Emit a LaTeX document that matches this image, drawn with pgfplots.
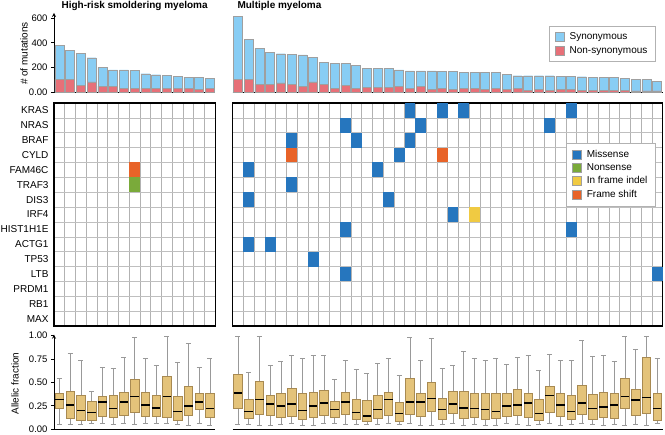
\documentclass[border=0pt]{standalone}
\usepackage{pgfplots}
\pgfplotsset{compat=1.18}
\usepackage{pgfplotstable}
\usepgfplotslibrary{statistics}
\usepackage{fontspec}
\setmainfont{Liberation Sans}

\definecolor{syncol}{RGB}{136,205,244}
\definecolor{nonsyncol}{RGB}{231,112,120}
\definecolor{missense}{RGB}{38,118,190}
\definecolor{nonsense}{RGB}{122,170,58}
\definecolor{indel}{RGB}{240,202,66}
\definecolor{frameshift}{RGB}{232,99,40}
\definecolor{boxfill}{RGB}{228,195,122}
\definecolor{boxedge}{RGB}{168,138,82}

% one grid cell = 10.75pt x 14.867pt
\pgfdeclareplotmark{cell}{%
  \pgfpathrectangle{\pgfpoint{-5.375pt}{-7.433pt}}{\pgfpoint{10.75pt}{14.867pt}}%
  \pgfusepathqfill}

\newcommand{\ticksize}{\fontsize{9.5}{11}\selectfont}
\newcommand{\labsize}{\fontsize{10}{12}\selectfont}

% draw one prepared box from row #2 of table #1
\newcommand{\boxrow}[2]{%
  \pgfplotstablegetelem{#2}{lw}\of#1\let\bLW\pgfplotsretval
  \pgfplotstablegetelem{#2}{lq}\of#1\let\bLQ\pgfplotsretval
  \pgfplotstablegetelem{#2}{med}\of#1\let\bMD\pgfplotsretval
  \pgfplotstablegetelem{#2}{uq}\of#1\let\bUQ\pgfplotsretval
  \pgfplotstablegetelem{#2}{uw}\of#1\let\bUW\pgfplotsretval
  \edef\doplot{\noexpand\addplot[boxplot prepared={draw position=\the\numexpr#2+1\relax,
    lower whisker=\bLW, lower quartile=\bLQ, median=\bMD,
    upper quartile=\bUQ, upper whisker=\bUW}] coordinates {};}%
  \doplot}

\pgfplotsset{
  base/.style={scale only axis, clip=false,
    /pgf/number format/assume math mode=true,
    tick label style={font=\ticksize},
    label style={font=\labsize}},
  paneltitle/.style={every axis title/.style={at={(axis description cs:0,1)},
    anchor=base west, xshift=#1, yshift=4.3pt, font=\bfseries\labsize}},
  bars/.style={base, height=79.5pt, ymin=0, ymax=640,
    axis x line=bottom, xtick=\empty,
    axis line style={-, line width=0.8pt}},
  grid/.style={base, height=223pt, ymin=0.5, ymax=15.5, y dir=reverse,
    xticklabel=\empty, xmajorgrids=true,
    ytick={1,...,15}, minor ytick={1.5,2.5,...,14.5}, yminorgrids=true,
    major tick length=0pt, minor tick length=0pt,
    grid style={gray!60, line width=0.5pt},
    minor grid style={gray!50, line width=0.5pt},
    axis line style={line width=1.2pt}},
  boxes/.style={base, height=94.6pt, ymin=0, ymax=1.01,
    axis x line=bottom, xtick=\empty,
    axis line style={-, line width=0.8pt},
    boxplot/draw direction=y,
    boxplot/box extend=0.77, boxplot/whisker extend=0.47,
    boxplot/every box/.style={fill=boxfill, draw=boxedge, line width=0.5pt},
    boxplot/every whisker/.style={draw=gray!80, line width=0.7pt},
    boxplot/every median/.style={draw=black, line width=1.6pt}},
  sqlegend/.style={legend cell align=left,
    legend image code/.code={\draw[##1] (0pt,-4.5pt) rectangle (9pt,4.5pt);},
    legend style={draw=gray!60, font=\labsize, row sep=0.8pt,
      inner xsep=6pt, inner ysep=5pt,
      /tikz/every odd column/.style={column sep=3pt}}},
}

% mutation counts per sample
\pgfplotstableread{
x total nonsyn
1 379 108
2 339 108
3 317 59
4 280 86
5 202 51
6 183 51
7 183 35
8 178 35
9 151 35
10 143 35
11 140 35
12 132 35
13 124 35
14 124 27
15 116 35
}\smmbars

\pgfplotstableread{
x total nonsyn
1 614 108
2 428 108
3 355 67
4 323 67
5 312 78
6 307 67
7 302 51
8 285 86
9 245 67
10 234 35
11 234 59
12 218 35
13 197 43
14 197 43
15 197 43
16 183 48
17 175 35
18 175 48
19 175 27
20 170 35
21 170 27
22 162 35
23 162 35
24 162 27
25 162 35
26 146 27
27 135 35
28 135 19
29 135 27
30 135 19
31 129 27
32 129 27
33 127 19
34 124 19
35 124 19
36 121 19
37 113 19
38 108 13
39 108 13
40 92 13
}\mmbars

% allelic fraction summaries
\pgfplotstableread{
lw lq med uq uw
0.05 0.22 0.32 0.38 0.54
0.05 0.12 0.26 0.41 0.81
0.05 0.10 0.20 0.36 0.74
0.06 0.10 0.18 0.30 0.41
0.06 0.14 0.29 0.35 0.66
0.05 0.13 0.22 0.36 0.65
0.06 0.15 0.29 0.40 0.77
0.05 0.18 0.35 0.53 0.98
0.06 0.14 0.26 0.40 0.76
0.06 0.14 0.23 0.36 0.68
0.06 0.13 0.35 0.57 0.99
0.05 0.10 0.19 0.35 0.71
0.04 0.15 0.25 0.46 0.92
0.06 0.21 0.29 0.39 0.66
0.04 0.13 0.22 0.39 0.76
}\smmbox

\pgfplotstableread{
lw lq med uq uw
0.05 0.23 0.39 0.59 0.99
0.05 0.12 0.19 0.32 0.61
0.04 0.16 0.32 0.51 0.99
0.04 0.15 0.27 0.36 0.68
0.05 0.13 0.25 0.38 0.73
0.06 0.14 0.27 0.44 0.79
0.04 0.11 0.20 0.38 0.76
0.04 0.13 0.25 0.40 0.79
0.06 0.15 0.28 0.42 0.79
0.06 0.13 0.21 0.30 0.53
0.05 0.16 0.29 0.40 0.74
0.05 0.11 0.18 0.32 0.64
0.05 0.09 0.14 0.31 0.60
0.05 0.12 0.21 0.36 0.70
0.06 0.15 0.32 0.40 0.76
0.05 0.09 0.17 0.29 0.58
0.06 0.16 0.29 0.55 0.98
0.04 0.14 0.29 0.39 0.74
0.04 0.19 0.33 0.50 0.97
0.05 0.11 0.21 0.33 0.65
0.06 0.17 0.27 0.41 0.68
0.04 0.12 0.23 0.41 0.83
0.05 0.13 0.22 0.39 0.76
0.04 0.11 0.21 0.38 0.74
0.04 0.12 0.19 0.39 0.76
0.06 0.14 0.25 0.38 0.69
0.05 0.15 0.26 0.43 0.77
0.04 0.13 0.28 0.39 0.79
0.05 0.10 0.17 0.32 0.63
0.06 0.18 0.36 0.46 0.80
0.04 0.14 0.26 0.39 0.74
0.05 0.11 0.19 0.36 0.74
0.06 0.16 0.28 0.47 0.95
0.05 0.11 0.22 0.37 0.78
0.04 0.13 0.24 0.40 0.79
0.05 0.12 0.26 0.39 0.73
0.04 0.22 0.35 0.54 0.99
0.05 0.15 0.31 0.43 0.85
0.04 0.17 0.34 0.77 0.99
0.06 0.10 0.22 0.39 0.76
}\mmbox

\begin{document}
\begin{tikzpicture}
\path[use as bounding box] (0pt,0pt) rectangle (665pt,-435pt);

% ---------- mutation counts ----------
\begin{axis}[bars, paneltitle=4pt, at={(54pt,-92.5pt)}, anchor=south west,
  width=161.25pt, xmin=0.5, xmax=15.5,
  axis y line=left, ytick={0,200,400,600}, yticklabels={0.00,200,400,600},
  tick align=outside, major tick length=3pt, tick style={black, line width=0.8pt},
  ylabel={\# of mutations},
  every axis y label/.style={at={(axis description cs:-0.186,0.49)}, rotate=90, anchor=center},
  title={High-risk smoldering myeloma}]
\addplot[ybar, bar width=0.84, bar shift=0pt, fill=syncol, draw=gray!75] table[x=x, y=total] {\smmbars};
\addplot[ybar, bar width=0.84, bar shift=0pt, fill=nonsyncol, draw=gray!75] table[x=x, y=nonsyn] {\smmbars};
\end{axis}

\begin{axis}[bars, sqlegend, paneltitle=1.5pt, at={(232.5pt,-92.5pt)}, anchor=south west,
  width=430pt, xmin=0.5, xmax=40.5, axis y line=none,
  legend style={at={(0.984,0.84)}, anchor=north east},
  title={Multiple myeloma}]
\addplot[ybar, bar width=0.84, bar shift=0pt, fill=syncol, draw=gray!75, forget plot] table[x=x, y=total] {\mmbars};
\addplot[ybar, bar width=0.84, bar shift=0pt, fill=nonsyncol, draw=gray!75, forget plot] table[x=x, y=nonsyn] {\mmbars};
\addlegendimage{fill=syncol, draw=gray!75}
\addlegendentry{Synonymous}
\addlegendimage{fill=nonsyncol, draw=gray!75}
\addlegendentry{Non-synonymous}
\end{axis}

% ---------- mutation grid ----------
\begin{axis}[grid, at={(54pt,-103pt)}, anchor=north west,
  width=161.25pt, xmin=0.5, xmax=15.5, xtick={1.5,2.5,...,14.5},
  yticklabels={KRAS,NRAS,BRAF,CYLD,FAM46C,TRAF3,DIS3,IRF4,HIST1H1E,ACTG1,TP53,LTB,PRDM1,RB1,MAX},
  yticklabel style={font=\labsize, xshift=-2pt}]
\addplot[only marks, mark=cell, color=frameshift] table {
x y
8 5
};
\addplot[only marks, mark=cell, color=nonsense] table {
x y
8 6
};
\end{axis}

\begin{axis}[grid, sqlegend, at={(232.5pt,-103pt)}, anchor=north west,
  width=430pt, xmin=0.5, xmax=40.5, xtick={1.5,2.5,...,39.5},
  yticklabel=\empty,
  legend style={at={(0.984,0.822)}, anchor=north east}]
\addplot[only marks, mark=cell, color=missense, forget plot] table {
x y
17 1
20 1
22 1
32 1
11 2
18 2
30 2
6 3
12 3
17 3
16 4
2 5
14 5
6 6
2 7
15 7
21 8
11 9
32 9
2 10
4 10
8 11
11 12
40 12
};
\addplot[only marks, mark=cell, color=frameshift, forget plot] table {
x y
6 4
20 4
};
\addplot[only marks, mark=cell, color=indel, forget plot] table {
x y
23 8
};
\addlegendimage{fill=missense, draw=gray!75}
\addlegendentry{Missense}
\addlegendimage{fill=nonsense, draw=gray!75}
\addlegendentry{Nonsense}
\addlegendimage{fill=indel, draw=gray!75}
\addlegendentry{In frame indel}
\addlegendimage{fill=frameshift, draw=gray!75}
\addlegendentry{Frame shift}
\end{axis}

% ---------- allelic fraction ----------
\begin{axis}[boxes, at={(54pt,-429.3pt)}, anchor=south west,
  width=161.25pt, xmin=0.5, xmax=15.5,
  axis y line=left, ytick={0,0.25,0.5,0.75,1},
  yticklabel style={/pgf/number format/.cd, fixed, fixed zerofill, precision=2},
  tick align=outside, major tick length=3pt, tick style={black, line width=0.8pt},
  ylabel={Allelic fraction},
  every axis y label/.style={at={(axis description cs:-0.242,0.486)}, rotate=90, anchor=center}]
\pgfplotsinvokeforeach{0,...,14}{\boxrow{\smmbox}{#1}}
\end{axis}

\begin{axis}[boxes, at={(232.5pt,-429.3pt)}, anchor=south west,
  width=430pt, xmin=0.5, xmax=40.5, axis y line=none]
\pgfplotsinvokeforeach{0,...,39}{\boxrow{\mmbox}{#1}}
\end{axis}
\end{tikzpicture}
\end{document}
